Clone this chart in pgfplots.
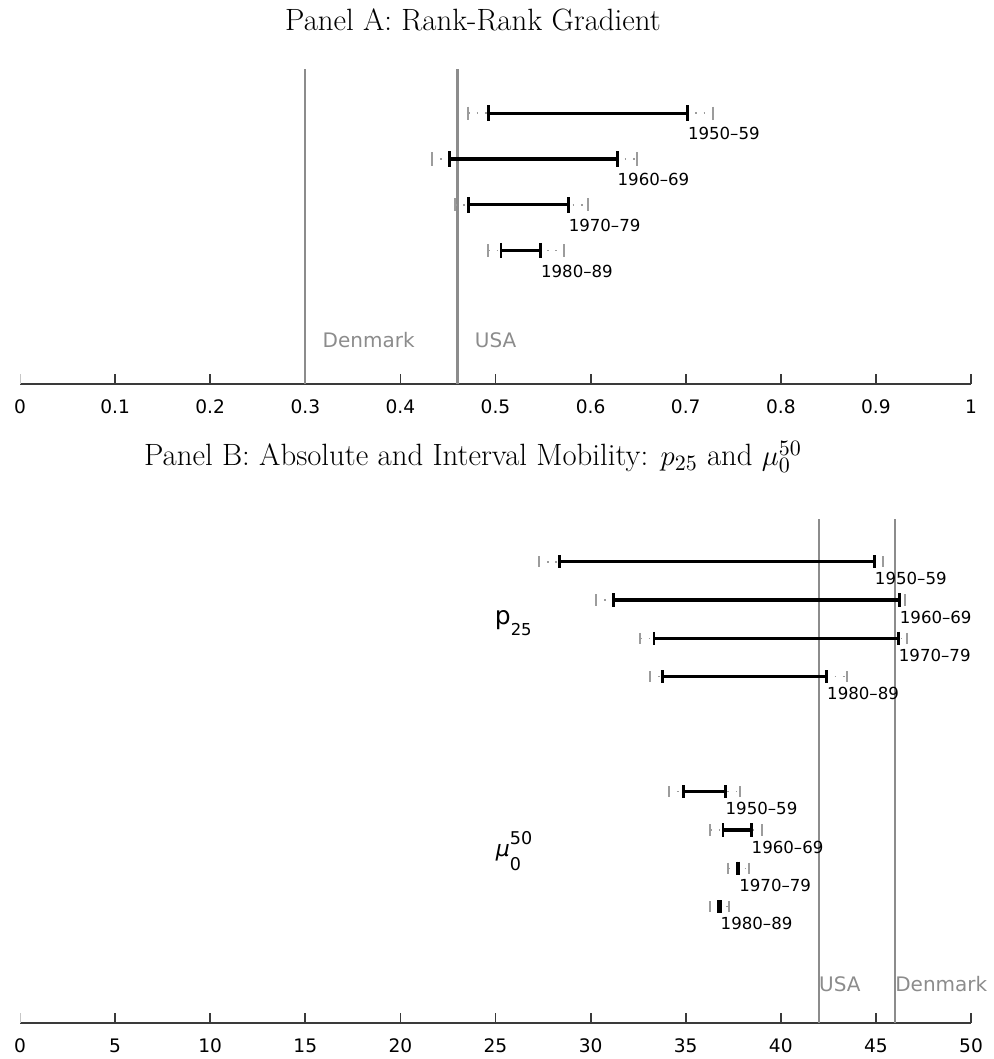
\documentclass[border=0pt]{standalone}
\usepackage{pgfplots}
\pgfplotsset{compat=1.18}
\usepackage{fontspec}
\newfontfamily\dv{DejaVu Sans}
\definecolor{refgray}{HTML}{8C8C8C}
\definecolor{whgray}{HTML}{9C9C9C}
\definecolor{axgray}{HTML}{3A3A3A}

\pgfplotsset{
  panel/.style={
    scale only axis, width=475.5pt,
    axis x line=bottom, axis y line=none, ytick=\empty,
    axis line style={axgray, line width=1.2pt, -},
    tick align=inside,
    major tick length=5pt,
    major tick style={axgray, line width=0.9pt},
    xticklabel style={font=\dv\fontsize{9.3}{11}\selectfont, anchor=base, yshift=-15pt, inner sep=0pt},
    /pgf/number format/assume math mode=true,
    clip=false,
    extra x ticks={0},
    extra x tick style={major tick style={black!22, line width=0.5pt}},
  },
  gwA/.style={whgray, line width=0.8pt, dash pattern=on 0.8pt off 3.4pt, mark=|, mark size=3.3pt, mark options={solid, line width=1pt}},
  bkA/.style={black, line width=1.6pt, mark=|, mark size=3.9pt, mark options={solid, line width=1.4pt}},
  gwB/.style={whgray, line width=0.8pt, dash pattern=on 0.8pt off 3.4pt, mark=|, mark size=2.8pt, mark options={solid, line width=1pt}},
  bkB/.style={black, line width=1.6pt, mark=|, mark size=3.3pt, mark options={solid, line width=1.4pt}},
}
\tikzset{
  yrA/.style={anchor=base west, inner sep=0pt, font=\dv\fontsize{8.3}{10}\selectfont, yshift=-13.35pt},
  yrB/.style={anchor=base west, inner sep=0pt, font=\dv\fontsize{8.3}{10}\selectfont, yshift=-11.5pt},
  ctry/.style={anchor=base west, inner sep=0pt, text=refgray, font=\dv\fontsize{10}{12}\selectfont},
}

\begin{document}
\begin{tikzpicture}
\path[use as bounding box] (-10pt,-337.5pt) rectangle (486.5pt,192pt);

% ---------------- Panel A ----------------
\begin{axis}[panel, at={(0pt,0pt)}, anchor=south west,
  height=157.35pt, xmin=0, xmax=1, ymin=-1.91, ymax=4.96,
  xtick={0.1,0.2,0.3,0.4,0.5,0.6,0.7,0.8,0.9,1}]
  \addplot[refgray, line width=1.1pt] coordinates {(0.3,-1.91) (0.3,4.96)};
  \addplot[refgray, line width=1.1pt] coordinates {(0.46,-1.91) (0.46,4.96)};
  % 1950-59
  \addplot[gwA] coordinates {(0.4714,4) (0.729,4)};
  \addplot[bkA] coordinates {(0.4924,4) (0.702,4)};
  % 1960-69
  \addplot[gwA] coordinates {(0.4329,3) (0.6485,3)};
  \addplot[bkA] coordinates {(0.452,3) (0.628,3)};
  % 1970-79
  \addplot[gwA] coordinates {(0.4574,2) (0.5976,2)};
  \addplot[bkA] coordinates {(0.4714,2) (0.5766,2)};
  % 1980-89
  \addplot[gwA] coordinates {(0.4924,1) (0.5724,1)};
  \addplot[bkA] coordinates {(0.5058,1) (0.5475,1)};
  \node[yrA] at (axis cs:0.702,4) {1950–59};
  \node[yrA] at (axis cs:0.628,3) {1960–69};
  \node[yrA] at (axis cs:0.5766,2) {1970–79};
  \node[yrA] at (axis cs:0.5475,1) {1980–89};
  \node[ctry, xshift=8.5pt, yshift=18pt] at (axis cs:0.3,-1.91) {Denmark};
  \node[ctry, xshift=8.5pt, yshift=18pt] at (axis cs:0.46,-1.91) {USA};
\end{axis}

\node[anchor=base, font=\fontsize{15.4}{18}\selectfont] at (226.5pt,176.5pt) {Panel A: Rank-Rank Gradient};
\node[anchor=base, font=\fontsize{15.4}{18}\selectfont] at (226.5pt,-40.85pt) {Panel B: Absolute and Interval Mobility: $p_{25}$ and $\mu_0^{50}$};

% ---------------- Panel B ----------------
\begin{axis}[panel, at={(0pt,-319.35pt)}, anchor=south west,
  height=251.85pt, xmin=0, xmax=50, ymin=-1.027, ymax=12.114,
  xtick={5,10,15,20,25,30,35,40,45,50}]
  \addplot[refgray, line width=1.1pt] coordinates {(42,-1.027) (42,12.114)};
  \addplot[refgray, line width=1.1pt] coordinates {(46,-1.027) (46,12.114)};
  % p25
  \addplot[gwB] coordinates {(27.27,11) (45.37,11)};
  \addplot[bkB] coordinates {(28.38,11) (44.93,11)};
  \addplot[gwB] coordinates {(30.27,10) (46.51,10)};
  \addplot[bkB] coordinates {(31.21,10) (46.24,10)};
  \addplot[gwB] coordinates {(32.62,9) (46.65,9)};
  \addplot[bkB] coordinates {(33.33,9) (46.19,9)};
  \addplot[gwB] coordinates {(33.11,8) (43.49,8)};
  \addplot[bkB] coordinates {(33.77,8) (42.42,8)};
  % mu_0^50
  \addplot[gwB] coordinates {(34.10,5) (37.83,5)};
  \addplot[bkB] coordinates {(34.89,5) (37.08,5)};
  \addplot[gwB] coordinates {(36.30,4) (39.03,4)};
  \addplot[bkB] coordinates {(36.96,4) (38.45,4)};
  \addplot[gwB] coordinates {(37.22,3) (38.32,3)};
  \addplot[bkB] coordinates {(37.70,3) (37.80,3)};
  \addplot[gwB] coordinates {(36.26,2) (37.27,2)};
  \addplot[bkB] coordinates {(36.74,2) (36.82,2)};
  \node[yrB] at (axis cs:44.93,11) {1950–59};
  \node[yrB] at (axis cs:46.24,10) {1960–69};
  \node[yrB] at (axis cs:46.19,9) {1970–79};
  \node[yrB] at (axis cs:42.42,8) {1980–89};
  \node[yrB] at (axis cs:37.08,5) {1950–59};
  \node[yrB] at (axis cs:38.45,4) {1960–69};
  \node[yrB] at (axis cs:37.80,3) {1970–79};
  \node[yrB] at (axis cs:36.82,2) {1980–89};
  \node[anchor=base west, inner sep=0pt, font=\dv\fontsize{12.5}{14}\selectfont, yshift=-2.9pt, xshift=-0.5pt] at (axis cs:25,9.5) {p\raisebox{-5.5pt}{\fontsize{8.2}{9}\selectfont 25}};
  \node[anchor=base west, inner sep=0pt, font=\dv\fontsize{11}{13}\selectfont, yshift=-3.9pt] at (axis cs:25,3.5) {{\itshape μ}\rlap{\raisebox{6pt}{\fontsize{8.8}{10}\selectfont 50}}\raisebox{-6.85pt}{\fontsize{8.8}{10}\selectfont 0}};
  \node[ctry, xshift=0pt, yshift=15.5pt] at (axis cs:42,-1.027) {USA};
  \node[ctry, xshift=0pt, yshift=15.5pt] at (axis cs:46,-1.027) {Denmark};
\end{axis}
\end{tikzpicture}
\end{document}
